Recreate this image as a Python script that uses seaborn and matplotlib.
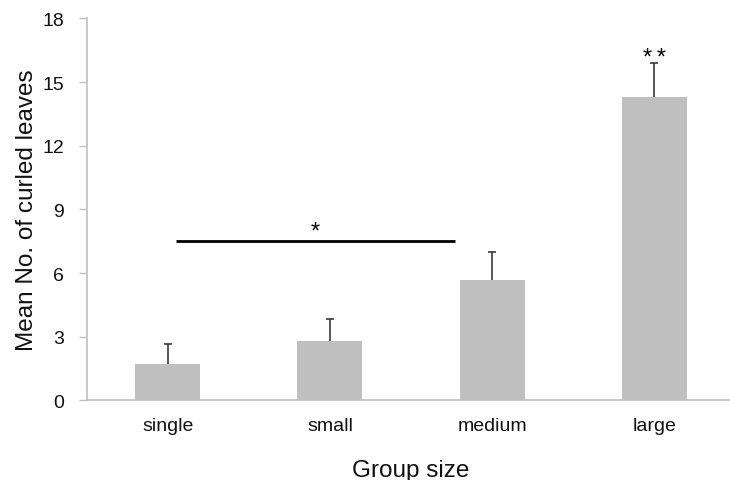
import numpy as np
import pandas as pd
import matplotlib
matplotlib.use("Agg")
import matplotlib.pyplot as plt
import seaborn as sns

# Mean number of curled leaves per group size, with standard errors
groups = ["single", "small", "medium", "large"]
means = [1.71, 2.81, 5.67, 14.30]
errors = [0.94, 1.02, 1.33, 1.58]

# Significance annotations
sig_bar_span = [0.054, 1.771]
sig_bar_level = 7.52
sig_bar_label = "*"
sig_label_level = 7.95
large_label = "*\u2009*"
large_label_level = 16.15

yticks = [0, 3, 6, 9, 12, 15, 18]

sns.set_theme(style="white")
plt.rcParams["font.family"] = ["Liberation Sans", "DejaVu Sans"]

df = pd.DataFrame({"group": groups, "mean": means, "err": errors})

fig = plt.figure(figsize=(7.3, 4.81), dpi=100)
ax = fig.add_axes([0.1185, 0.1653, 0.889, 0.7942])

sns.barplot(data=df, x="group", y="mean", color="#BFBFBF", saturation=1,
            width=0.4, edgecolor="none", errorbar=None, ax=ax, zorder=2)

# One-sided (upper) error bars
xpos = np.arange(len(groups))
eb = ax.errorbar(xpos, df["mean"], yerr=[np.zeros(len(groups)), df["err"]],
                 fmt="none", ecolor="#3a3a3a", elinewidth=1.2, capsize=3,
                 capthick=1.2, zorder=3)
eb[1][0].set_visible(False)

# Significance bar between single/small and medium
ax.plot(sig_bar_span, [sig_bar_level, sig_bar_level], color="black", lw=2,
        solid_capstyle="butt", zorder=3)
ax.text(np.mean(sig_bar_span), sig_label_level, sig_bar_label,
        ha="center", va="center", fontsize=17, color="black")
ax.text(xpos[-1], large_label_level, large_label, ha="center", va="center",
        fontsize=17, color="black")

ax.set_xlim(-0.5, 3.5)
ax.set_ylim(0, 18)
ax.set_yticks(yticks)
ax.set_yticklabels([str(t) for t in yticks])

for side in ["top", "right"]:
    ax.spines[side].set_visible(False)
for side in ["left", "bottom"]:
    ax.spines[side].set_color("#BFBFBF")
    ax.spines[side].set_linewidth(1.2)

ax.tick_params(axis="y", which="major", left=True, length=6, width=1,
               color="#BFBFBF", pad=10, labelsize=14, labelcolor="#111111")
ax.tick_params(axis="x", which="major", bottom=False, length=0, pad=12,
               labelsize=14, labelcolor="#111111")

ax.set_xlabel("Group size", fontsize=17.5, labelpad=18, color="#111111")
ax.set_ylabel("Mean No. of curled leaves", fontsize=17.5, labelpad=3,
              color="#111111")

fig.savefig("out.png", dpi=100)
